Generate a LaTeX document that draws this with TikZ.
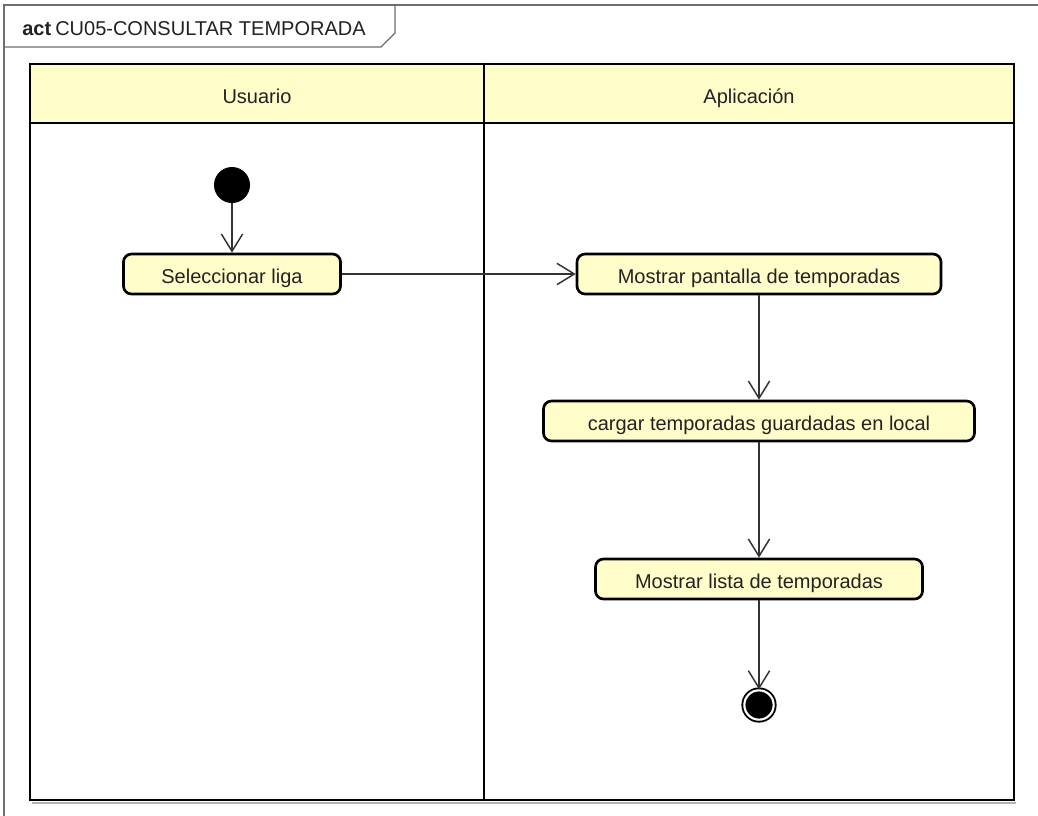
\documentclass[tikz,border=0pt]{standalone}
\usepackage{fontspec}
\setmainfont{Liberation Sans}
\usetikzlibrary{arrows.meta}
\definecolor{actfill}{HTML}{FFFDC9}
\definecolor{ink}{HTML}{222222}
\definecolor{flow}{HTML}{333333}
\definecolor{framegray}{HTML}{6E6E6E}
\begin{document}
\begin{tikzpicture}[x=0.75pt,y=-0.75pt,
  every node/.style={font=\fontsize{15}{18}\selectfont, text=ink},
  action/.style={draw=black, line width=2pt, fill=actfill, rounded corners=6pt,
    minimum height=30pt, inner sep=0pt, text height=13.5pt, text depth=0pt},
  lane/.style={draw=black, line width=2.2pt},
  flowline/.style={draw=flow, line width=1.1pt,
    -{Straight Barb[length=13pt,width=16pt,line width=1.1pt]}},
  startnode/.style={circle, fill=black, minimum size=27pt, inner sep=0pt},
  endnode/.style={circle, fill=black, draw=black, line width=1.4pt,
    double=white, double distance=1.6pt, minimum size=22pt, inner sep=0pt}]
\useasboundingbox (0,0) rectangle (1038,815);
\fill[white] (0,0) rectangle (1038,815);

% diagram frame with its name tab
\draw[framegray, line width=1pt] (4,820) -- (4,5) -- (1045,5);
\draw[framegray, line width=1pt] (4,47) -- (381,47) -- (395,33) -- (395,5);
\node[anchor=base west, inner sep=0pt] (actkw) at (22,35) {\bfseries act};
\node[anchor=base west, inner sep=0pt] (title) at (55,35) {CU05-CONSULTAR TEMPORADA};

% swimlanes
\draw[gray!60, line width=2pt] (32,803) -- (1016,803);
\fill[actfill] (30,64) rectangle (1014,123);
\draw[lane] (30,64) rectangle (1014,800);
\draw[lane] (30,123) -- (1014,123);
\draw[lane] (484,64) -- (484,800);
\node[anchor=base, inner sep=0pt] (laneU) at (257,103) {Usuario};
\node[anchor=base, inner sep=0pt] (laneA) at (749,103) {Aplicación};

% activity nodes
\node[startnode] (start) at (232,185) {};
\node[action, minimum width=162.75pt] (sel) at (232,274) {Seleccionar liga};
\node[action, minimum width=273pt] (pant) at (759,274) {Mostrar pantalla de temporadas};
\node[action, minimum width=323.25pt] (carg) at (759,421) {cargar temporadas guardadas en local};
\node[action, minimum width=245.25pt] (lista) at (759,579) {Mostrar lista de temporadas};
\node[endnode] (fin) at (759,705) {};

% control flows
\draw[flowline] (start) -- (sel);
\draw[flowline] (sel) -- (pant);
\draw[flowline] (pant) -- (carg);
\draw[flowline] (carg) -- (lista);
\draw[flowline] (lista) -- (fin);
\end{tikzpicture}
\end{document}
